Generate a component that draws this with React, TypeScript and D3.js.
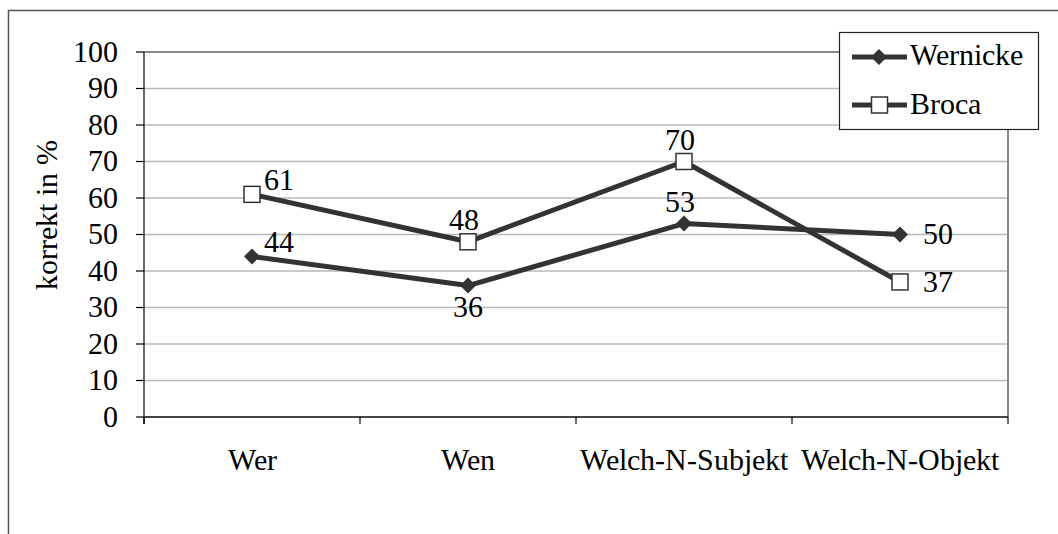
import React, { useEffect, useRef } from "react";
import * as d3 from "d3";

const categories = ["Wer", "Wen", "Welch-N-Subjekt", "Welch-N-Objekt"];
const wernicke = [44, 36, 53, 50];
const broca = [61, 48, 70, 37];
const wernickeLabelPos = ["rightUp", "below", "above", "right"];
const brocaLabelPos = ["rightUp", "above", "above", "right"];
const yTicks = [0, 10, 20, 30, 40, 50, 60, 70, 80, 90, 100];
const yTitle = "korrekt in %";

const W = 1058;
const H = 534;
const FS = 29.5;
const LINE = "#333333";
const SERIF = '"ChartSerif", "Liberation Serif", "Tinos", "Times New Roman", serif';

function T(props: any) {
  const { children, ...rest } = props;
  return (
    <text className="serifText" fontSize={FS} fill="#000" style={{ fontFamily: SERIF }} {...rest}>
      {children}
    </text>
  );
}

export default function App() {
  const ref = useRef<SVGSVGElement | null>(null);
  useEffect(() => {
    if (!ref.current) return;
    d3.select(ref.current)
      .selectAll<SVGTextElement, unknown>("text")
      .each(function () {
        this.style.setProperty("font-family", SERIF, "important");
      });
  });

  const left = 144, right = 1008, top = 52, bottom = 417;
  const x = d3.scaleBand<string>().domain(categories).range([left, right]);
  const y = d3.scaleLinear().domain([0, 100]).range([bottom, top]);
  const cx = (c: string) => (x(c) as number) + x.bandwidth() / 2;
  const line = d3
    .line<number>()
    .x((_, i) => cx(categories[i]))
    .y((v) => y(v));

  const boundaries = d3.range(categories.length + 1).map((i) => left + i * x.bandwidth());

  const off = FS * 0.33;
  const labelAttrs = (px: number, py: number, pos: string, markerHalf: number) => {
    if (pos === "above") return { x: px - 4, y: py - markerHalf - 4, anchor: "middle" };
    if (pos === "below") return { x: px, y: py + markerHalf + 4 + 2 * off, anchor: "middle" };
    if (pos === "right") return { x: px + 23, y: py + off, anchor: "start" };
    return { x: px + 12, y: py - 4, anchor: "start" };
  };

  const diamond = (px: number, py: number, r: number, key?: string) => (
    <path
      key={key}
      d={`M${px},${py - r}L${px + r},${py}L${px},${py + r}L${px - r},${py}Z`}
      fill={LINE}
    />
  );
  const square = (px: number, py: number, s: number, key?: string) => (
    <rect key={key} x={px - s / 2} y={py - s / 2} width={s} height={s} fill="#fff" stroke={LINE} strokeWidth={1.5} />
  );

  return (
    <svg
      id="serifChart"
      ref={ref}
      width={W}
      height={H}
      style={{ position: "absolute", left: 0, top: 0, display: "block", fontFamily: SERIF }}
    >
      <style>{`@font-face { font-family: "ChartSerif"; src: local("Liberation Serif"), local("LiberationSerif"), local("LiberationSerif-Regular"), local("Tinos"), local("Tinos-Regular"); }
#serifChart text.serifText { font-family: ${SERIF} !important; }`}</style>
      <rect x={0} y={0} width={W} height={H} fill="#fff" />
      <rect x={8.5} y={10.5} width={1070} height={560} fill="none" stroke="#555" strokeWidth={1.5} />

      {yTicks.map((t) => (
        <line key={"g" + t} x1={left} x2={right} y1={y(t)} y2={y(t)} stroke="#b8b8b8" strokeWidth={1.5} />
      ))}
      <line x1={right} x2={right} y1={top} y2={bottom} stroke="#888" strokeWidth={2} />
      <line x1={left} x2={right} y1={top} y2={top} stroke="#888" strokeWidth={2} />

      <line x1={left} x2={left} y1={top} y2={bottom + 7} stroke="#000" strokeWidth={1.2} />
      {yTicks.map((t) => (
        <g key={"yt" + t}>
          <line x1={left - 8} x2={left} y1={y(t)} y2={y(t)} stroke="#000" strokeWidth={1.2} />
          <T x={118} y={y(t) + off} textAnchor="end">
            {t}
          </T>
        </g>
      ))}
      <line x1={left} x2={right} y1={bottom} y2={bottom} stroke="#444" strokeWidth={2} />
      {boundaries.map((b, i) => (
        <line key={"xt" + i} x1={b} x2={b} y1={bottom} y2={bottom + 7} stroke="#000" strokeWidth={1.2} />
      ))}
      {categories.map((c) => (
        <T key={"xl" + c} x={cx(c)} y={470} textAnchor="middle">
          {c}
        </T>
      ))}

      <T transform={`translate(57,215) rotate(-90)`} textAnchor="middle">
        {yTitle}
      </T>

      <path d={line(broca) as string} fill="none" stroke={LINE} strokeWidth={5} strokeLinejoin="round" />
      <path d={line(wernicke) as string} fill="none" stroke={LINE} strokeWidth={5} strokeLinejoin="round" />
      {wernicke.map((v, i) => diamond(cx(categories[i]), y(v), 8, "wd" + i))}
      {broca.map((v, i) => square(cx(categories[i]), y(v), 16, "bs" + i))}

      {wernicke.map((v, i) => {
        const a = labelAttrs(cx(categories[i]), y(v), wernickeLabelPos[i], 8);
        return (
          <T key={"wl" + i} x={a.x} y={a.y} textAnchor={a.anchor}>
            {v}
          </T>
        );
      })}
      {broca.map((v, i) => {
        const a = labelAttrs(cx(categories[i]), y(v), brocaLabelPos[i], 8);
        return (
          <T key={"bl" + i} x={a.x} y={a.y} textAnchor={a.anchor}>
            {v}
          </T>
        );
      })}

      <rect x={839.5} y={32.5} width={199} height={97} fill="#fff" stroke="#222" strokeWidth={1.2} />
      <line x1={852} x2={907} y1={57} y2={57} stroke={LINE} strokeWidth={5} />
      {diamond(879, 57, 8)}
      <T x={910} y={65}>Wernicke</T>
      <line x1={852} x2={907} y1={105} y2={105} stroke={LINE} strokeWidth={5} />
      {square(879.5, 105, 16)}
      <T x={910} y={114}>Broca</T>
    </svg>
  );
}
